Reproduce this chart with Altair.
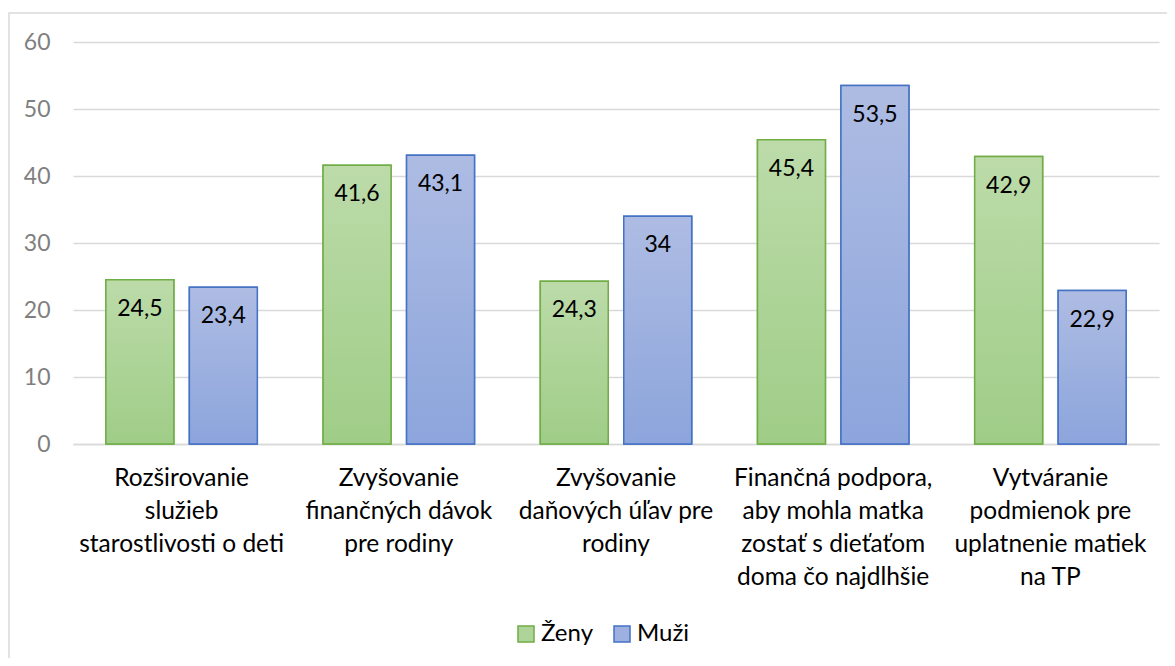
import altair as alt
import pandas as pd

categories = [
    "Rozširovanie\nslužieb\nstarostlivosti o deti",
    "Zvyšovanie\nfinančných dávok\npre rodiny",
    "Zvyšovanie\ndaňových úľav pre\nrodiny",
    "Finančná podpora,\naby mohla matka\nzostať s dieťaťom\ndoma čo najdlhšie",
    "Vytváranie\npodmienok pre\nuplatnenie matiek\nna TP",
]
series_names = ["Ženy", "Muži"]
zeny = [24.5, 41.6, 24.3, 45.4, 42.9]
muzi = [23.4, 43.1, 34, 53.5, 22.9]
y_ticks = [0, 10, 20, 30, 40, 50, 60]

rows = []
for c, v in zip(categories, zeny):
    rows.append({"category": c, "series": "Ženy", "value": v})
for c, v in zip(categories, muzi):
    rows.append({"category": c, "series": "Muži", "value": v})
df = pd.DataFrame(rows)

FONT = "Lato"
green_stroke = "#70ad47"
blue_stroke = "#4472c4"
green_grad = alt.Gradient(
    gradient="linear",
    stops=[alt.GradientStop(color="#bcdba9", offset=0),
           alt.GradientStop(color="#9fcd87", offset=1)],
    x1=0, x2=0, y1=0, y2=1,
)
blue_grad = alt.Gradient(
    gradient="linear",
    stops=[alt.GradientStop(color="#aebce3", offset=0),
           alt.GradientStop(color="#8ca5dc", offset=1)],
    x1=0, x2=0, y1=0, y2=1,
)

legend = alt.Legend(
    orient="none", legendX=441, legendY=580, direction="horizontal",
    title=None, symbolType="square", symbolSize=256, symbolStrokeWidth=1.5,
    labelFont=FONT, labelFontSize=24, labelColor="#000000",
    columnPadding=16, labelOffset=3,
)

x_enc = alt.X(
    "category:N", sort=categories,
    scale=alt.Scale(paddingInner=0, paddingOuter=0),
    axis=alt.Axis(
        title=None, labelAngle=0, labelExpr="split(datum.value, '\\n')",
        labelFont=FONT, labelFontSize=24.5, labelColor="#000000",
        labelLineHeight=33.3, labelPadding=22, labelBaseline="top",
        ticks=False, tickSize=0, domainColor="#d9d9d9", domainWidth=1.5,
        labelLimit=0, grid=False,
    ),
)
xoff_enc = alt.XOffset(
    "series:N",
    scale=alt.Scale(domain=series_names, paddingInner=0.186, paddingOuter=0.394),
)
y_enc = alt.Y(
    "value:Q", scale=alt.Scale(domain=[0, 60]),
    axis=alt.Axis(
        values=y_ticks, title=None, grid=True, gridColor="#d9d9d9",
        gridWidth=1.5, domain=False, ticks=False, tickSize=0,
        labelFont=FONT, labelFontSize=23, labelColor="#7f7f7f",
        labelPadding=23,
    ),
)

base = alt.Chart(df).encode(x=x_enc, xOffset=xoff_enc, y=y_enc)

solid = base.mark_bar(strokeWidth=1.5).encode(
    fill=alt.Fill("series:N", scale=alt.Scale(domain=series_names, range=["#aed49a", "#9db0e0"]), legend=legend),
    stroke=alt.Stroke("series:N", scale=alt.Scale(domain=series_names, range=[green_stroke, blue_stroke]), legend=legend),
)

green_bars = base.transform_filter(alt.datum.series == "Ženy").mark_bar(
    fill=green_grad, stroke=green_stroke, strokeWidth=1.5
)
blue_bars = base.transform_filter(alt.datum.series == "Muži").mark_bar(
    fill=blue_grad, stroke=blue_stroke, strokeWidth=1.5
)

labels = base.transform_calculate(
    label="replace(toString(datum.value), '.', ',')"
).mark_text(
    baseline="middle", align="center", dy=29, font=FONT, fontSize=23, color="#000000"
).encode(text="label:N")

frame = alt.Chart(alt.Data(values=[{"a": 1}])).mark_rect(
    filled=False, stroke="#d9d9d9", strokeWidth=1.5
).encode(
    x=alt.value(-64), x2=alt.value(3000), y=alt.value(-29), y2=alt.value(3000)
)

chart = alt.layer(frame, solid, green_bars, blue_bars, labels).properties(
    width=1086, height=402,
    padding={"left": 65, "top": 34, "right": 8, "bottom": 214},
    autosize=alt.AutoSizeParams(type="none"),
    background="white",
).configure_view(stroke=None)

chart.save("out.html", embed_options={"renderer": "svg", "actions": False})
